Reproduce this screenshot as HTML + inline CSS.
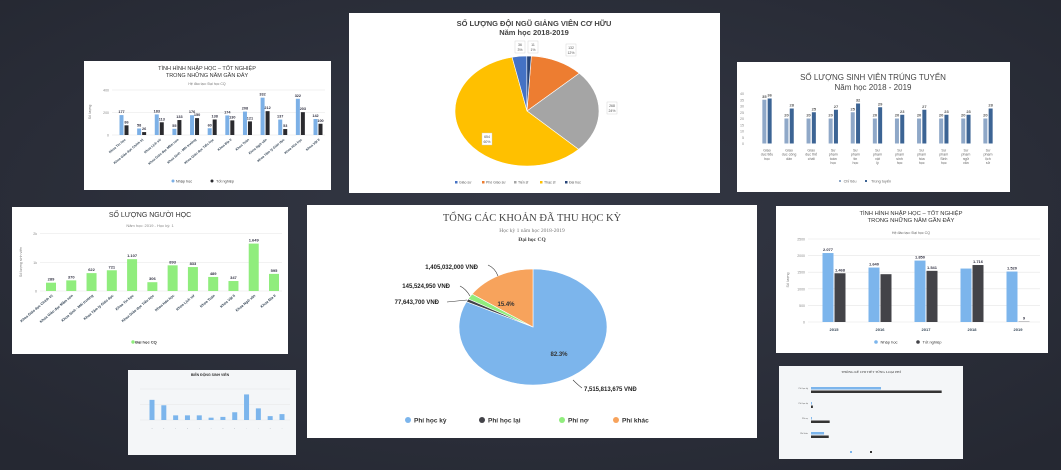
<!DOCTYPE html>
<html><head><meta charset="utf-8"><style>
html,body{margin:0;padding:0;background:#2b2e39;}
svg{display:block;font-family:"Liberation Sans","Noto Sans CJK SC",sans-serif;}
</style></head><body>
<svg id="s" width="1061" height="470" viewBox="0 0 1061 470">
<defs><radialGradient id="bg" cx="50%" cy="45%" r="70%"><stop offset="0" stop-color="#343845"/><stop offset="1" stop-color="#252832"/></radialGradient></defs>
<rect width="1061" height="470" fill="url(#bg)"/>
<rect x="84" y="61" width="247" height="129" fill="#fff"/>
<rect x="349" y="13" width="371" height="180" fill="#fff"/>
<rect x="737" y="62" width="273" height="130" fill="#fff"/>
<rect x="12" y="207" width="276" height="147" fill="#fff"/>
<rect x="307" y="205" width="450" height="233" fill="#fff"/>
<rect x="776" y="206" width="272" height="147" fill="#fff"/>
<rect x="128" y="370" width="168" height="85" fill="#f4f6f8"/>
<rect x="779" y="366" width="184" height="93" fill="#f4f6f8"/>
</svg>
<script>
// ---- data ----
const facultyCats=["Khoa Tin học","Khoa Giáo dục Chính trị","Khoa Lịch sử","Khoa Giáo dục Mầm non","Khoa Sinh - Môi trường","Khoa Giáo dục Tiểu học","Khoa Địa lí","Khoa Toán","Khoa Ngữ văn","Khoa Tâm lý Giáo dục","Khoa Hóa học","Khoa Vật lí"];
const facultyEnroll=[177,58,183,55,176,60,174,208,332,137,322,142];
const facultyGrad=[86,26,113,133,150,138,130,121,212,53,203,100];
const lecturerNames=["Phó Giáo sư","Tiến sĩ","Thạc sĩ","Giáo sư","Đại học"];
const lecturerVals=[132,268,654,36,11];
const lecturerPct=["12%","24%","60%","3%","1%"];
const admitCats=["Giáo dục tiểu học","Giáo dục công dân","Giáo dục thể chất","Sư phạm toán học","Sư phạm tin học","Sư phạm vật lý","Sư phạm sinh học","Sư phạm hóa học","Sư phạm Sinh học","Sư phạm ngữ văn","Sư phạm lịch sử"];
const admitQuota=[35,20,20,20,25,20,20,20,20,20,20];
const admitActual=[36,28,25,27,32,29,23,27,23,23,28];
const learnerCats=["Khoa Giáo dục Chính trị","Khoa Giáo dục Mầm non","Khoa Sinh - Môi trường","Khoa Tâm lý Giáo dục","Khoa Tin học","Khoa Giáo dục Tiểu học","Khoa Hóa học","Khoa Lịch sử","Khoa Toán","Khoa Vật lí","Khoa Ngữ văn","Khoa Địa lí"];
const learnerVals=[289,370,622,721,1107,306,893,833,489,347,1649,595];
const learnerLabels=["289","370","622","721","1.107","306","893","833","489","347","1.649","595"];
const feeNames=["Phí học kỳ","Phí học lại","Phí nợ","Phí khác"];
const feeVals=[7515813675,77643700,145524950,1405032000];
const feeLabels=["7,515,813,675 VNĐ","77,643,700 VNĐ","145,524,950 VNĐ","1,405,032,000 VNĐ"];
const yearCats=["2015","2016","2017","2018","2019"];
const yearEnroll=[2077,1640,1850,1610,1520];
const yearGrad=[1468,1440,1541,1716,9];
const yearEnrollLbl=["2.077","1.640","1.850","","1.520"];
const yearGradLbl=["1.468","","1.541","1.716","9"];
const actCats=["a","b","c","d","e","f","g","h","i","j","k","l","m"];
const actVals=[1300,950,300,300,300,150,200,500,1650,750,250,380];
const feeStatCats=["Phí học kỳ","Phí học lại","Phí nợ","Phí khác"];
const feeStatPaid=[7.5,0.1,0.1,1.4];
const feeStatDue=[14,0.2,2.0,1.9];

const S=document.getElementById('s');
const NS='http://www.w3.org/2000/svg';
function el(tag,attrs,name,inter){const e=document.createElementNS(NS,tag);for(const k in attrs)e.setAttribute(k,attrs[k]);


S.appendChild(e);return e;}
function T(x,y,t,size,name,o){o=o||{};const e=el('text',{x:x,y:y,'font-size':size,fill:o.fill||'#444','text-anchor':o.anchor||'middle','font-weight':o.bold?'bold':'normal','font-family':o.serif?'"Liberation Serif",serif':'"Liberation Sans","Noto Sans CJK SC",sans-serif'},name);if(o.rot)e.setAttribute('transform','rotate('+o.rot+' '+x+' '+y+')');e.textContent=t;return e;}

function barChart(c){
  const n=c.cats.length, step=(c.x1-c.x0)/(n-1);
  const sy=v=>c.y0-(v/c.max)*(c.y0-c.yTop);
  c.ticks.forEach((tv,i)=>{const y=sy(tv);
    el('line',{x1:c.ax0,x2:c.ax1,y1:y,y2:y,stroke:'#e6e6e6','stroke-width':0.6},c.id+'-gridline');
    T(c.ax0-3,y+1.5,c.tickLbl[i],c.tfs,c.id+'-y-tick',{anchor:'end',fill:'#888'});});
  const ns=c.series.length;
  c.series.forEach((s,j)=>{s.vals.forEach((v,i)=>{
    const cx=c.x0+i*step, x=cx-(ns*c.bw+(ns-1)*c.gap)/2+j*(c.bw+c.gap), y=sy(v);
    el('rect',{x:x,y:y,width:c.bw,height:c.y0-y,fill:s.color},c.id+'-bar');
    if(s.lbl&&s.lbl[i]!=='')T(x+c.bw/2,y-2,s.lbl[i],c.vfs,c.id+'-value-label',{fill:s.lblColor||'#334',bold:true});
  });});
  c.cats.forEach((t,i)=>{const cx=c.x0+i*step;
    if(c.rot)T(cx+2,c.y0+5,t,c.cfs,c.id+'-category-label',{anchor:'end',rot:c.rot,fill:'#345',bold:true});
    else if(c.wrap){const w=c.wrap(t);w.forEach((ln,k)=>T(cx,c.y0+8+k*c.cfs*1.15,ln,c.cfs,c.id+'-category-label',{fill:'#666'}));}
    else T(cx,c.y0+9,t,c.cfs,c.id+'-category-label',{fill:'#345',bold:true});});
}

// Panel 1
T(207,70,"TÌNH HÌNH NHẬP HỌC – TỐT NGHIỆP",5.5,'p1-title',{fill:'#333'});
T(207,77,"TRONG NHỮNG NĂM GẦN ĐÂY",5.5,'p1-title-2',{fill:'#333'});
T(207,85,"Hệ đào tạo: Đại học CQ",3.5,'p1-subtitle',{fill:'#777'});
T(91,112,"Số lượng",3.5,'p1-y-title',{rot:-90,fill:'#777'});
barChart({id:'p1',cats:facultyCats,x0:124,x1:318,y0:135,yTop:90,max:400,ticks:[0,200,400],tickLbl:['0','200','400'],ax0:112,ax1:325,tfs:3.5,bw:4,gap:1,vfs:3.8,cfs:3.3,rot:-40,
 series:[{vals:facultyEnroll,color:'#7cb0e6',lbl:facultyEnroll.map(String)},{vals:facultyGrad,color:'#2a2a2e',lbl:facultyGrad.map(String)}]});
el('circle',{cx:173,cy:181,r:1.5,fill:'#7cb0e6'},'p1-legend-marker-enroll');T(184,182.5,"Nhập học",3.8,'p1-legend-enroll');
el('circle',{cx:212,cy:181,r:1.5,fill:'#2a2a2e'},'p1-legend-marker-grad');T(225,182.5,"Tốt nghiệp",3.8,'p1-legend-grad');

// Panel 2 pie
T(534,26,"SỐ LƯỢNG ĐỘI NGŨ GIẢNG VIÊN CƠ HỮU",7.5,'p2-title',{bold:true,fill:'#444'});
T(534,35,"Năm học 2018-2019",7.5,'p2-subtitle',{bold:true,fill:'#444'});
const lecColors=['#ed7d31','#a5a5a5','#ffc000','#4472c4','#264478'];
function pie(id,cx,cy,rx,ry,vals,cols,start){const tot=vals.reduce((a,b)=>a+b,0);let a=start;const mids=[];
  vals.forEach((v,i)=>{const a2=a+v/tot*2*Math.PI;const p=(t)=>[cx+rx*Math.sin(t),cy-ry*Math.cos(t)];
   const [x1,y1]=p(a),[x2,y2]=p(a2);const large=(a2-a)>Math.PI?1:0;
   el('path',{d:`M${cx},${cy}L${x1},${y1}A${rx},${ry} 0 ${large} 1 ${x2},${y2}Z`,fill:cols[i],stroke:'#fff','stroke-width':0.6},id+'-slice');
   mids.push((a+a2)/2);a=a2;});return mids;}
const m2=pie('p2',527,111,72,55,lecturerVals,lecColors,0.06);
const lp=[[571,50],[612,108],[487,139],[520,47],[533,47]];
lecturerVals.forEach((v,i)=>{el('rect',{x:lp[i][0]-5,y:lp[i][1]-6,width:10,height:12,fill:'#fff',stroke:'#ccc','stroke-width':0.4},'p2-data-label-box');
 T(lp[i][0],lp[i][1]-1,String(v),3.5,'p2-data-label-value',{fill:'#555'});T(lp[i][0],lp[i][1]+4,lecturerPct[i],3.5,'p2-data-label-pct',{fill:'#555'});});
const l2=[["Giáo sư",'#4472c4',455],["Phó Giáo sư",'#ed7d31',482],["Tiến sĩ",'#a5a5a5',514],["Thạc sĩ",'#ffc000',540],["Đại học",'#264478',565]];
l2.forEach(l=>{el('rect',{x:l[2],y:181,width:2.5,height:2.5,fill:l[1]},'p2-legend-marker');T(l[2]+4,183.5,l[0],3.5,'p2-legend-entry',{anchor:'start',fill:'#555'});});

// Panel 3
T(873,80,"SỐ LƯỢNG SINH VIÊN TRÚNG TUYỂN",8,'p3-title',{fill:'#444'});
T(873,90,"Năm học 2018 - 2019",8,'p3-subtitle',{fill:'#444'});
barChart({id:'p3',cats:admitCats,x0:767,x1:988,y0:143.5,yTop:93.5,max:40,ticks:[0,5,10,15,20,25,30,35,40],tickLbl:['0','5','10','15','20','25','30','35','40'],ax0:747,ax1:747,tfs:3.6,bw:4,gap:1.3,vfs:4,cfs:3.6,
 wrap:t=>{const w=t.split(' ');if(t.startsWith('Giáo dục')){return w.length>3?['Giáo','dục '+w[2],w.slice(3).join(' ')]:['Giáo','dục',w[2]];}return ['Sư','phạm',...w.slice(2)];},
 series:[{vals:admitQuota,color:'#8fa8c8',lbl:admitQuota.map(String),lblColor:'#555'},{vals:admitActual,color:'#3c6494',lbl:admitActual.map(String),lblColor:'#555'}]});
el('rect',{x:839,y:180,width:2,height:2,fill:'#8fa8c8'},'p3-legend-marker-quota');T(850,182.5,"Chỉ tiêu",3.8,'p3-legend-quota',{fill:'#666'});
el('rect',{x:865,y:180,width:2,height:2,fill:'#3c6494'},'p3-legend-marker-actual');T(881,182.5,"Trúng tuyển",3.8,'p3-legend-actual',{fill:'#666'});

// Panel 4
T(150,217,"SỐ LƯỢNG NGƯỜI HỌC",7,'p4-title',{fill:'#333'});
T(150,227,"Năm học: 2019 - Học kỳ: 1",4,'p4-subtitle',{fill:'#888'});
T(22,262,"Số lượng sinh viên",3.6,'p4-y-title',{rot:-90,fill:'#777'});
barChart({id:'p4',cats:learnerCats,x0:51,x1:274,y0:291,yTop:233.5,max:2000,ticks:[0,1000,2000],tickLbl:['0','1k','2k'],ax0:40,ax1:282,tfs:3.6,bw:10,gap:0,vfs:4,cfs:3.6,rot:-40,
 series:[{vals:learnerVals,color:'#90ed7d',lbl:learnerLabels}]});
el('circle',{cx:133,cy:342,r:1.7,fill:'#90ed7d'},'p4-legend-marker');T(146,343.5,"Đại học CQ",4,'p4-legend-entry',{bold:true,fill:'#333'});

// Panel 5 pie
T(532,221,"TỔNG CÁC KHOẢN ĐÃ THU HỌC KỲ",10.5,'p5-title',{serif:true,fill:'#444'});
T(532,232,"Học kỳ 1 năm học 2018-2019",5.5,'p5-subtitle',{serif:true,fill:'#777'});
T(532,241,"Đại học CQ",5.5,'p5-subtitle-2',{serif:true,bold:true,fill:'#444'});
const feeColors=['#7cb5ec','#434348','#90ed7d','#f7a35c'];
pie('p5',533,327,74,58,feeVals,feeColors,0);
T(559,356,"82.3%",6,'p5-pct-label-main',{bold:true,fill:'#333'});
T(506,306,"15.4%",6,'p5-pct-label-other',{bold:true,fill:'#333'});
el('path',{d:'M573,380 Q578,385 582,388',fill:'none',stroke:'#333','stroke-width':0.6},'p5-connector');
el('path',{d:'M447,302 L467,300',fill:'none',stroke:'#333','stroke-width':0.6},'p5-connector');
el('path',{d:'M460,286 Q466,289 470,296',fill:'none',stroke:'#333','stroke-width':0.6},'p5-connector');
el('path',{d:'M488,265 Q495,268 498,276',fill:'none',stroke:'#333','stroke-width':0.6},'p5-connector');
T(584,391,feeLabels[0],6,'p5-data-label',{anchor:'start',bold:true,fill:'#222'});
T(439,304,feeLabels[1],6,'p5-data-label',{anchor:'end',bold:true,fill:'#222'});
T(450,288,feeLabels[2],6,'p5-data-label',{anchor:'end',bold:true,fill:'#222'});
T(478,269,feeLabels[3],6,'p5-data-label',{anchor:'end',bold:true,fill:'#222'});
const lx=[408,482,562,616];
feeNames.forEach((n,i)=>{el('circle',{cx:lx[i],cy:420,r:3,fill:feeColors[i]},'p5-legend-marker');T(lx[i]+6,422.5,n,6.5,'p5-legend-entry',{anchor:'start',bold:true,fill:'#333'});});

// Panel 6
T(911,215,"TÌNH HÌNH NHẬP HỌC – TỐT NGHIỆP",5.8,'p6-title',{fill:'#333'});
T(911,222,"TRONG NHỮNG NĂM GẦN ĐÂY",5.8,'p6-title-2',{fill:'#333'});
T(911,234,"Hệ đào tạo: Đại học CQ",3.6,'p6-subtitle',{fill:'#666'});
T(789,280,"Số lượng",3.6,'p6-y-title',{rot:-90,fill:'#777'});
barChart({id:'p6',cats:yearCats,x0:834,x1:1018,y0:322,yTop:239,max:2500,ticks:[0,500,1000,1500,2000,2500],tickLbl:['0','500','1000','1500','2000','2500'],ax0:808,ax1:1040,tfs:3.5,bw:11,gap:1,vfs:4,cfs:4,
 series:[{vals:yearEnroll,color:'#7cb5ec',lbl:yearEnrollLbl},{vals:yearGrad,color:'#434348',lbl:yearGradLbl}]});
el('circle',{cx:876,cy:342,r:1.8,fill:'#7cb5ec'},'p6-legend-marker-enroll');T(889,343.5,"Nhập học",4,'p6-legend-enroll',{fill:'#333'});
el('circle',{cx:918,cy:342,r:1.8,fill:'#434348'},'p6-legend-marker-grad');T(932,343.5,"Tốt nghiệp",4,'p6-legend-grad',{fill:'#333'});

// Panel 7
T(210,376,"BIẾN ĐỘNG SINH VIÊN",3.5,'p7-title',{fill:'#333',bold:true});
barChart({id:'p7',cats:actCats.slice(0,12),x0:152,x1:282,y0:420,yTop:389,max:2000,ticks:[0,1000,2000],tickLbl:['','',''],ax0:140,ax1:290,tfs:2,bw:5,gap:0,vfs:2,cfs:1,
 series:[{vals:actVals,color:'#7cb5ec'}]});
// Panel 8
T(871,373,"THỐNG KÊ CHI TIẾT TỪNG LOẠI PHÍ",3.5,'p8-title',{fill:'#333',serif:true});
feeStatCats.forEach((c,i)=>{const y=387+i*15;T(808,y+2,c,2,'p8-category-label',{anchor:'end',fill:'#555'});
 el('rect',{x:811,y:y,width:feeStatPaid[i]/15*140,height:2.5,fill:'#7cb5ec'},'p8-bar-paid');
 el('rect',{x:811,y:y+3.5,width:feeStatDue[i]/15*140,height:2.5,fill:'#333'},'p8-bar-due');});
el('rect',{x:850,y:451,width:2,height:2,fill:'#7cb5ec'},'p8-legend-marker');el('rect',{x:870,y:451,width:2,height:2,fill:'#333'},'p8-legend-marker');
</script>
</body></html>
